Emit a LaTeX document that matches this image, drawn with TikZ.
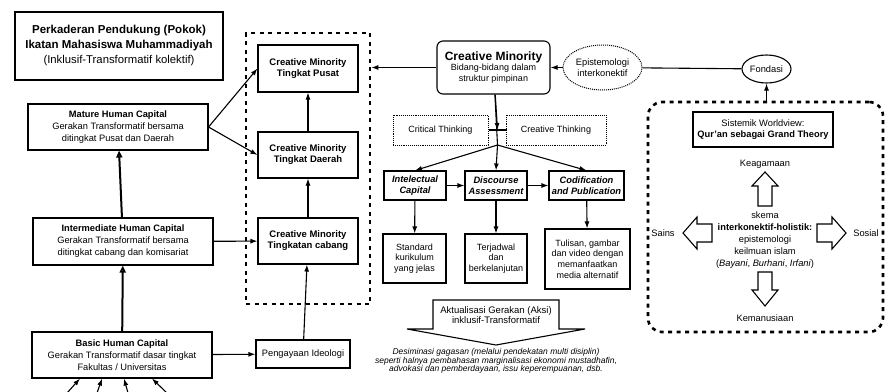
\documentclass[tikz,border=0pt]{standalone}
\usepackage{fontspec}
\setmainfont{Liberation Sans}
\usetikzlibrary{shapes, arrows.meta}

\tikzset{
	box/.style={rectangle, draw, line width=1.1pt, align=center, inner sep=1pt},
	cmbox/.style={box, font=\bfseries\fontsize{9.5}{11}\selectfont, minimum width=100, minimum height=46},
	capbox/.style={box, font=\fontsize{9.3}{12}\selectfont, minimum width=180, minimum height=46},
	toolbox/.style={box, font=\bfseries\itshape\fontsize{9.3}{11}\selectfont, minimum height=29},
	outbox/.style={box, font=\fontsize{9}{10.8}\selectfont},
	thinkbox/.style={rectangle, draw, densely dotted, line width=0.9pt, align=center, font=\fontsize{9}{10}\selectfont, minimum height=30},
	groupline/.style={line width=2.6pt, dash pattern=on 4pt off 4.5pt},
	growline/.style={line width=2pt, -{Triangle[open, length=7pt, width=6pt]}},
	blockarrow/.style={draw, line width=1.1pt, fill=white},
	link/.style={->, line width=1.1pt}
}

\begin{document}
\begin{tikzpicture}[x=1pt, y=-1pt,
						every path/.style={>={Latex[length=7pt, width=5pt]}}]
					\useasboundingbox (0,0) rectangle (885,391);

					% human capital column
					\node[box, minimum width=208, minimum height=68, font=\bfseries\fontsize{11.5}{15}\selectfont] (title) at (119,46)
						{Perkaderan Pendukung (Pokok)\\
						Ikatan Mahasiswa Muhammadiyah\\
						\mdseries\fontsize{11.3}{15}\selectfont(Inklusif-Transformatif kolektif)};
					\node[capbox] (mature) at (118,127)
						{\textbf{Mature Human Capital}\\Gerakan Transformatif bersama\\ditingkat Pusat dan Daerah};
					\node[capbox, minimum height=47] (intermediate) at (123,241.5)
						{\textbf{Intermediate Human Capital}\\Gerakan Transformatif bersama\\ditingkat cabang dan komisariat};
					\node[capbox] (basic) at (122,355)
						{\textbf{Basic Human Capital}\\Gerakan Transformatif dasar tingkat\\Fakultas / Universitas};
					\node[box, font=\fontsize{9.3}{10}\selectfont, minimum width=94, minimum height=28] (ideologi) at (303,354) {Pengayaan Ideologi};

					% creative minority levels
					\node[rectangle, draw, groupline, minimum width=124, minimum height=271] (cmgroup) at (308,168.5) {};
					\node[cmbox, minimum height=47] (pusat) at (308,68.5) {Creative Minority\\Tingkat Pusat};
					\node[cmbox] (daerah) at (308,155) {Creative Minority\\Tingkat Daerah};
					\node[cmbox] (cabang) at (308,241) {Creative Minority\\Tingkatan cabang};

					% leadership and thinking
					\node[box, rounded corners=6pt, minimum width=113, minimum height=53, font=\fontsize{9}{10.5}\selectfont] (cm) at (493.5,67.5)
						{\textbf{\fontsize{12}{14}\selectfont Creative Minority}\\Bidang-bidang dalam\\struktur pimpinan};
					\node[ellipse, draw, densely dotted, line width=1pt, minimum width=79, minimum height=45, inner sep=0pt, align=center, font=\fontsize{9.3}{10.5}\selectfont] (epistemologi) at (602.5,67.5) {Epistemologi\\interkonektif};
					\node[ellipse, draw, line width=1.1pt, minimum width=49, minimum height=28, inner sep=0pt, font=\fontsize{9.3}{10}\selectfont] (fondasi) at (766.5,69) {Fondasi};
					\node[thinkbox, minimum width=95] (critical) at (440.5,130) {Critical Thinking};
					\node[thinkbox, minimum width=100] (creative) at (556,130) {Creative Thinking};
					\coordinate (bar) at (497.5,130);
					\coordinate (split) at (497.5,145);

					\node[toolbox, minimum width=62] (intelectual) at (415,185.5) {Intelectual\\Capital};
					\node[toolbox, minimum width=62] (discourse) at (496,185.5) {Discourse\\Assessment};
					\node[toolbox, minimum width=75] (codification) at (586.5,185.5) {Codification\\and Publication};
					\node[outbox, minimum width=63, minimum height=49] (standard) at (414.5,258.5) {Standard\\kurikulum\\yang jelas};
					\node[outbox, minimum width=62, minimum height=49] (terjadwal) at (496,258.5) {Terjadwal\\dan\\berkelanjutan};
					\node[outbox, minimum width=85, minimum height=60] (tulisan) at (587.5,259) {Tulisan, gambar\\dan video dengan\\memanfaatkan\\media alternatif};

					% aktualisasi
					\draw[blockarrow] (433,300) -- (559,300) -- (559,329) -- (585,329) -- (496,345) -- (407,329) -- (433,329) -- cycle;
					\node[align=center, font=\fontsize{9.5}{10.5}\selectfont] (aktualisasi) at (496,315) {Aktualisasi Gerakan (Aksi)\\inklusif-Transformatif};
					\node[align=center, font=\itshape\fontsize{8.5}{8.6}\selectfont] (desiminasi) at (496,361)
						{Desiminasi gagasan (melalui pendekatan multi disiplin)\\
						seperti halnya pembahasan marginalisasi ekonomi mustadhafin,\\
						advokasi dan pemberdayaan, issu keperempuanan, dsb.};

					% worldview
					\node[rectangle, draw, groupline, rounded corners=14pt, minimum width=235, minimum height=230] (worldview) at (765.5,217) {};
					\node[box, minimum width=140, minimum height=35, font=\fontsize{9.3}{11}\selectfont] (sistemik) at (763,129.5)
						{Sistemik Worldview:\\\textbf{Qur’an sebagai Grand Theory}};
					\node[font=\fontsize{9.3}{10}\selectfont] (keagamaan) at (765,164) {Keagamaan};
					\node[align=center, font=\fontsize{9.3}{11.8}\selectfont] (skema) at (765,240)
						{skema\\\textbf{interkonektif-holistik:}\\epistemologi\\keilmuan islam\\(\textit{Bayani}, \textit{Burhani}, \textit{Irfani})};
					\node[font=\fontsize{9.3}{10}\selectfont] (sains) at (663,233) {Sains};
					\node[font=\fontsize{9.3}{10}\selectfont] (sosial) at (866,233) {Sosial};
					\node[font=\fontsize{9.3}{10}\selectfont] (kemanusiaan) at (765,318) {Kemanusiaan};
					\draw[blockarrow] (758,206) -- (758,186) -- (752,186) -- (765,172) -- (778,186) -- (772,186) -- (772,206) -- cycle;
					\draw[blockarrow] (758,272) -- (758,290) -- (752,290) -- (765,306) -- (778,290) -- (772,290) -- (772,272) -- cycle;
					\draw[blockarrow] (712,224) -- (697,224) -- (697,217) -- (683,233) -- (697,249) -- (697,242) -- (712,242) -- cycle;
					\draw[blockarrow] (817,224) -- (832,224) -- (832,217) -- (846,233) -- (832,249) -- (832,242) -- (817,242) -- cycle;

					% connectors
					\path [growline] (basic) edge (intermediate);
					\path [growline] (intermediate) edge (mature);
					\coordinate (in1) at (67,393);
					\coordinate (in2) at (97,393);
					\coordinate (in3) at (128,393);
					\coordinate (in4) at (167,393);
					\draw[link] (in1) -- ([xshift=-42pt]basic.south);
					\draw[link] (in2) -- ([xshift=-20pt]basic.south);
					\draw[link] (in3) -- ([xshift=2pt]basic.south);
					\draw[link] (in4) -- ([xshift=30pt]basic.south);
					\draw[link] (basic) -- (ideologi);
					\draw[link] (ideologi) -- (cabang);
					\draw[link] (cabang) -- (daerah);
					\draw[link] (daerah) -- (pusat);
					\draw[link] (mature.east) -- (pusat.west);
					\draw[link] (mature.east) -- (daerah.west);
					\draw[link] (intermediate) -- (cabang);
					\draw[link] (cm.west) -- (cmgroup.east |- cm.west);
					\draw[link] (epistemologi) -- (cm);
					\draw[line width=1.1pt] (fondasi) -- (epistemologi);
					\draw[link] (worldview.north -| fondasi) -- (fondasi);
					\draw[line width=1.1pt] (cm) -- (split);
					\draw[link] (cm) -- (bar);
					\draw[line width=1.1pt] ([xshift=-9pt]bar) -- ([xshift=9pt]bar);
					\draw[link] (split) -- (intelectual.north);
					\draw[link] (split) -- (discourse.north);
					\draw[link] (split) -- (codification.north);
					\draw[link] (intelectual) -- (discourse);
					\draw[link] (discourse) -- (codification);
					\draw[link] (intelectual) -- (standard);
					\draw[link] (discourse) -- (terjadwal);
					\draw[link] (codification) -- (tulisan);
				\end{tikzpicture}
\end{document}
